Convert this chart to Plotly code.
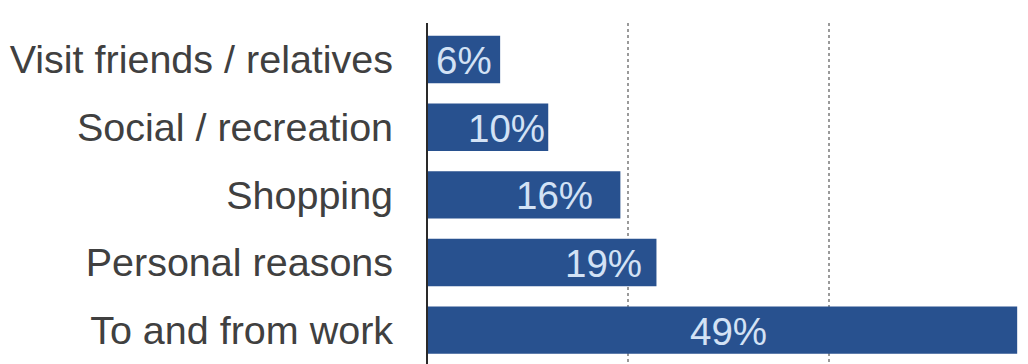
import plotly.graph_objects as go

# Trip purposes, bottom to top
categories = ["To and from work", "Personal reasons", "Shopping",
              "Social / recreation", "Visit friends / relatives"]
shares = [49, 19, 16, 10, 6]
value_labels = ["49%", "19%", "16%", "10%", "6%"]

# Horizontal offset (px) of each value label's centre from its bar end
label_shift_px = [-289, -53, -66, -42, -36]

BAR = "#28518f"
LABEL = "#d3e2f5"
TEXT = "#404040"
FONT = "Liberation Sans, Helvetica, Arial, sans-serif"

fig = go.Figure(
    go.Bar(
        x=shares,
        y=categories,
        orientation="h",
        marker=dict(color=BAR, line=dict(width=0)),
        width=0.7,
        hoverinfo="skip",
    )
)

for cat, val, lab, dx in zip(categories, shares, value_labels, label_shift_px):
    fig.add_annotation(
        x=val, y=cat, text=lab, showarrow=False,
        xanchor="center", yanchor="middle", xshift=dx, yshift=-1,
        font=dict(family=FONT, size=38.5, color=LABEL),
    )

fig.update_layout(
    width=1028, height=364,
    margin=dict(l=428, r=0, t=23, b=0, pad=0),
    paper_bgcolor="white", plot_bgcolor="white",
    showlegend=False,
    bargap=0.3,
    font=dict(family=FONT, size=39.5, color=TEXT),
)

fig.update_xaxes(
    range=[0, 49.9],
    tickvals=[50 / 3, 100 / 3],
    showticklabels=False,
    showgrid=True, gridcolor="#9a9a9a", gridwidth=1.5, griddash="dot",
    zeroline=False, showline=False, ticks="",
)

fig.update_yaxes(
    range=[-0.5, 4.54],
    showgrid=False, zeroline=False,
    showline=True, linecolor="#2a2a2a", linewidth=2,
    ticks="", ticklabelstandoff=25,
    tickfont=dict(family=FONT, size=39.5, color=TEXT),
)

fig.write_html("out.html")
